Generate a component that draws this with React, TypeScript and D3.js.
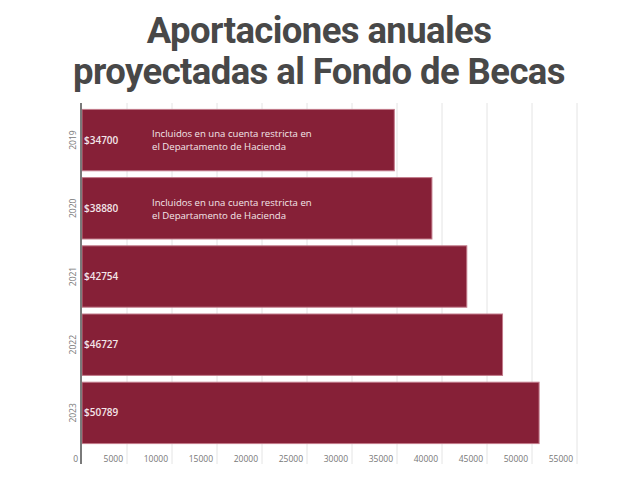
import React, { useEffect, useRef } from "react";
import * as d3 from "d3";

const years = ["2019", "2020", "2021", "2022", "2023"];
const values = [34700, 38880, 42754, 46727, 50789];
const notes = [
  ["Incluidos en una cuenta restricta en", "el Departamento de Hacienda"],
  ["Incluidos en una cuenta restricta en", "el Departamento de Hacienda"],
  [],
  [],
  [],
];
const xTicks = [0, 5000, 10000, 15000, 20000, 25000, 30000, 35000, 40000, 45000, 50000, 55000];
const titleLines = ["Aportaciones anuales", "proyectadas al Fondo de Becas"];

const W = 638;
const H = 483;

export default function App() {
  const ref = useRef<SVGSVGElement | null>(null);

  useEffect(() => {
    const svg = d3.select(ref.current);
    svg.selectAll("*").remove();

    const x = d3.scaleLinear().domain([0, 55000]).range([82, 577]);
    const y = d3.scaleBand<string>().domain(years).range([106, 447]).paddingInner(0.1).paddingOuter(0.05);

    // title
    svg
      .append("g")
      .selectAll("text")
      .data(titleLines)
      .join("text")
      .attr("x", W / 2)
      .attr("y", (_d, i) => 43 + i * 41)
      .attr("text-anchor", "middle")
      .attr("font-family", "Roboto, sans-serif")
      .attr("font-weight", 700)
      .attr("font-size", 36.5)
      .attr("letter-spacing", -0.6)
      .attr("fill", "#484848")
      .text((d) => d);

    // gridlines
    svg
      .append("g")
      .selectAll("line")
      .data(xTicks.slice(1))
      .join("line")
      .attr("x1", (d) => x(d))
      .attr("x2", (d) => x(d))
      .attr("y1", 103)
      .attr("y2", 464)
      .attr("stroke", "#e4e4e4")
      .attr("stroke-width", 1);

    // tick labels
    svg
      .append("g")
      .selectAll("text")
      .data(xTicks)
      .join("text")
      .attr("x", (d) => x(d) - 4)
      .attr("y", 462)
      .attr("text-anchor", "end")
      .attr("font-family", "'Open Sans', sans-serif")
      .attr("font-size", 8.5)
      .attr("fill", "#777")
      .text((d) => String(d));

    // bars
    svg
      .append("g")
      .selectAll("rect")
      .data(values)
      .join("rect")
      .attr("x", x(0))
      .attr("y", (_d, i) => y(years[i]) as number)
      .attr("width", (d) => x(d) - x(0))
      .attr("height", y.bandwidth())
      .attr("fill", "#862037")
      .attr("stroke", "#c27a8a")
      .attr("stroke-width", 1);

    // axis line
    svg
      .append("line")
      .attr("x1", 81)
      .attr("x2", 81)
      .attr("y1", 103)
      .attr("y2", 464)
      .attr("stroke", "#7a7a7a")
      .attr("stroke-width", 2);

    // year labels
    svg
      .append("g")
      .selectAll("text")
      .data(years)
      .join("text")
      .attr(
        "transform",
        (d) => `translate(76,${(y(d) as number) + y.bandwidth() / 2}) rotate(-90)`
      )
      .attr("text-anchor", "middle")
      .attr("font-family", "'Open Sans', sans-serif")
      .attr("font-size", 8.5)
      .attr("fill", "#777")
      .text((d) => d);

    // value labels
    svg
      .append("g")
      .selectAll("text")
      .data(values)
      .join("text")
      .attr("x", x(0) + 2)
      .attr("y", (_d, i) => (y(years[i]) as number) + y.bandwidth() / 2)
      .attr("dy", "0.35em")
      .attr("font-family", "'Open Sans', sans-serif")
      .attr("font-weight", 600)
      .attr("font-size", 10)
      .attr("fill", "#f3e6e9")
      .text((d) => "$" + d);

    // annotations
    notes.forEach((lines, i) => {
      const cy = (y(years[i]) as number) + y.bandwidth() / 2;
      svg
        .append("g")
        .selectAll("text")
        .data(lines)
        .join("text")
        .attr("x", 152)
        .attr("y", (_d, j) => cy - 6 + j * 13)
        .attr("dy", "0.35em")
        .attr("font-family", "'Open Sans', sans-serif")
        .attr("font-weight", 500)
        .attr("font-size", 9.6)
        .attr("fill", "#f3e6e9")
        .text((d) => d);
    });
  }, []);

  return (
    <div style={{ position: "absolute", left: 0, top: 0, width: W, height: H, background: "#fff" }}>
      <svg ref={ref} width={W} height={H} style={{ display: "block" }} />
    </div>
  );
}
